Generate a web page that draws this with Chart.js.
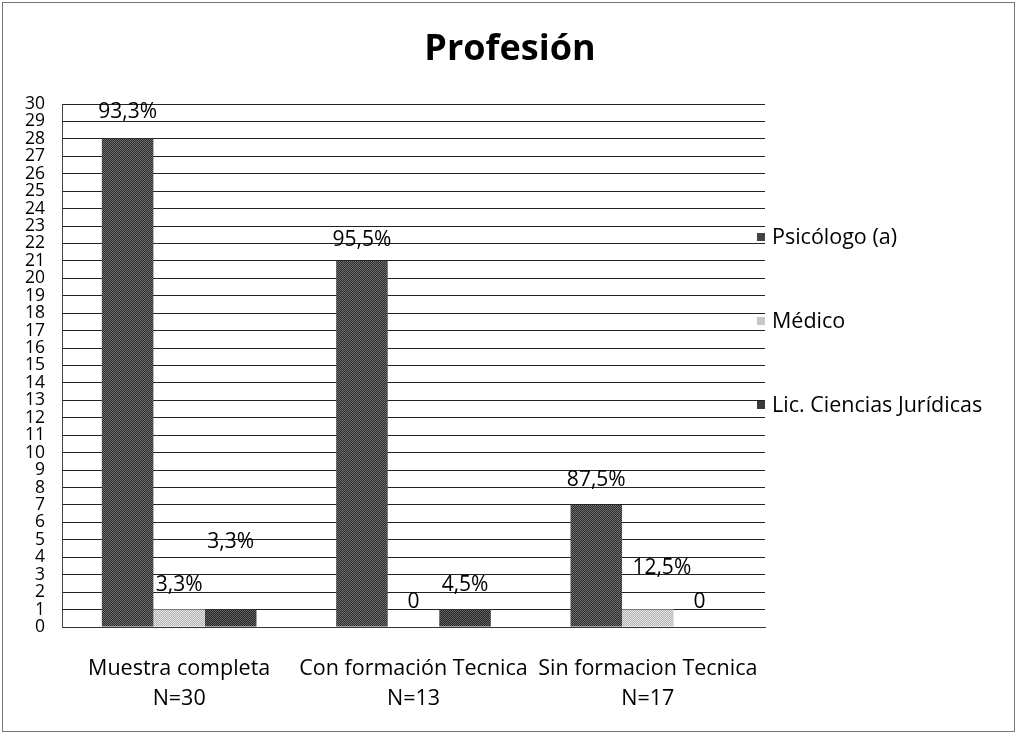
<!DOCTYPE html>
<html><head><meta charset="utf-8">
<script src="https://cdn.jsdelivr.net/npm/chart.js@4"></script>
<style>html,body{margin:0;padding:0;background:#fff}#wrap{width:1018px;height:735px;position:relative}</style>
</head><body><div id="wrap"><canvas id="c" width="1018" height="735"></canvas></div>
<script>
const categories = [["Muestra completa","N=30"],["Con formación Tecnica","N=13"],["Sin formacion Tecnica","N=17"]];
const seriesNames = ["Psicólogo (a)","Médico","Lic. Ciencias Jurídicas"];
const psicologo = [28, 21, 7];
const medico = [1, 0, 1];
const juridicas = [1, 1, 0];
const psicologoLabels = ["93,3%","95,5%","87,5%"];
const medicoLabels = ["3,3%","0","12,5%"];
const juridicasLabels = ["3,3%","4,5%","0"];
const titleText = "Profesión";
const yTicks = {min:0, max:30, step:1};

// style: label offsets (px above bar top) and x shifts
const labelStyle = [
  {dy:[27,21,25], dx:[0,0,0]},
  {dy:[25,25,42], dx:[0,0,14]},
  {dy:[68,25,25], dx:[0,0,0]}
];

function makePattern(a,b){
  const p=document.createElement('canvas');p.width=4;p.height=4;
  const g=p.getContext('2d');
  for(let y=0;y<4;y++)for(let x=0;x<4;x++){g.fillStyle=((x+y)%2)?a:b;g.fillRect(x,y,1,1);}
  return g.createPattern(p,'repeat');
}
const darkA=makePattern('#2c2c2c','#6e6e6e');
const lightA=makePattern('#b4b4b4','#e2e2e2');
const darkB=makePattern('#262626','#646464');
const legendColors=['#444','#c8c8c8','#3a3a3a'];

const FONT="'Open Sans', 'Liberation Sans', sans-serif";
const labelSets=[psicologoLabels,medicoLabels,juridicasLabels];

const overlay={
  id:'overlay',
  afterDatasetsDraw(chart){
    const ctx=chart.ctx;
    ctx.save();
    ctx.font="21px "+FONT;ctx.fillStyle='#000';ctx.textAlign='center';ctx.textBaseline='middle';
    chart.data.datasets.forEach((ds,i)=>{
      const meta=chart.getDatasetMeta(i);
      meta.data.forEach((bar,j)=>{
        ctx.fillText(labelSets[i][j], bar.x+labelStyle[i].dx[j], bar.y-labelStyle[i].dy[j]);
      });
    });
    // legend
    const a=chart.chartArea;
    ctx.textAlign='left';ctx.font="21.5px "+FONT;
    seriesNames.forEach((n,i)=>{
      const y=a.top+133+i*84;
      ctx.fillStyle=legendColors[i];
      ctx.fillRect(a.right-8,y-4,8,8);
      ctx.fillStyle='#000';
      ctx.fillText(n,a.right+7,y+1);
    });
    // title
    ctx.textAlign='center';ctx.font="bold 36px "+FONT;
    ctx.fillText(titleText,510,50);
    ctx.restore();
  },
  afterDraw(chart){
    const ctx=chart.ctx;ctx.save();ctx.strokeStyle='#777';ctx.lineWidth=1;
    ctx.strokeRect(2.5,2.5,1012,729);ctx.restore();
  }
};

new Chart(document.getElementById('c'),{
  type:'bar',
  data:{labels:categories,datasets:[
    {label:seriesNames[0],data:psicologo,backgroundColor:darkA,borderWidth:0},
    {label:seriesNames[1],data:medico,backgroundColor:lightA,borderWidth:0},
    {label:seriesNames[2],data:juridicas,backgroundColor:darkB,borderWidth:0}
  ]},
  options:{
    responsive:false,animation:false,
    layout:{padding:{left:10,right:253,top:104,bottom:0}},
    datasets:{bar:{categoryPercentage:0.66,barPercentage:1}},
    plugins:{legend:{display:false},tooltip:{enabled:false},title:{display:false}},
    scales:{
      x:{grid:{display:false},border:{display:true,color:'#333'},
        ticks:{color:'#000',font:{family:FONT,size:21.5,lineHeight:1.4},padding:19,maxRotation:0,autoSkip:false},
        afterFit(s){s.height=108;}},
      y:{min:yTicks.min,max:yTicks.max,
        ticks:{stepSize:yTicks.step,color:'#000',font:{family:FONT,size:17.5,lineHeight:1},padding:17,autoSkip:false},
        grid:{color:'#222',lineWidth:1,drawTicks:false},
        border:{display:true,color:'#444'},
        afterFit(s){s.width=52;}}
    }
  },
  plugins:[overlay]
});
</script></body></html>
